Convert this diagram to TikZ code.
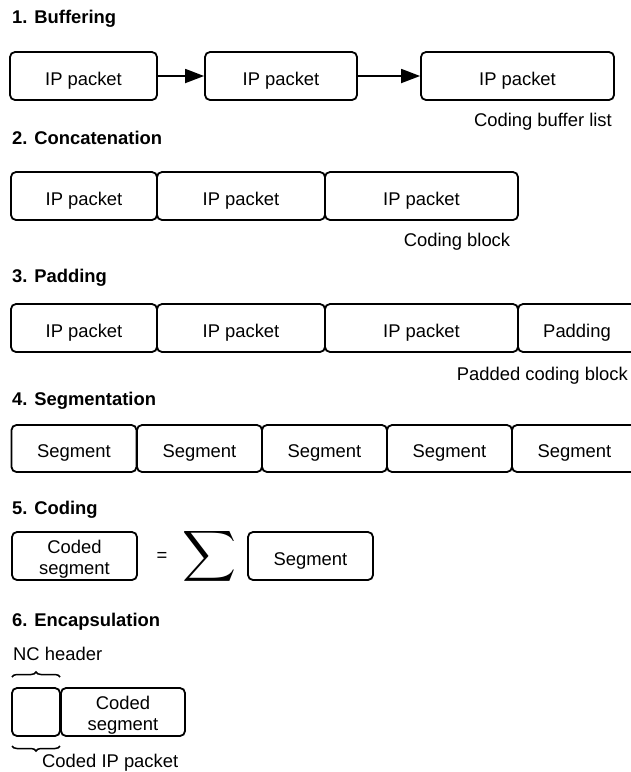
\documentclass[tikz,border=0pt]{standalone}
\usepackage{fontspec}
\setmainfont{Liberation Sans}
\usetikzlibrary{arrows.meta,decorations.pathreplacing}
\newcommand{\twolines}[2]{\parbox[b]{110pt}{\centering\fontsize{18.4}{21}\selectfont #1\\#2}}
\tikzset{
  blk/.style={draw, line width=1.8pt, rounded corners=5pt, inner sep=0pt,
    minimum height=48pt, text height=18pt, text depth=0pt,
    font=\fontsize{18.4}{22}\selectfont},
  blk2/.style={blk, text height=37.4pt, text depth=0pt},
  title/.style={anchor=base west, inner sep=0pt, font=\fontsize{18.4}{22}\selectfont\bfseries},
  lbl/.style={inner sep=0pt, font=\fontsize{18.4}{22}\selectfont},
  link/.style={line width=1.8pt, -{Triangle[length=19pt,width=14pt]}},
  brc/.style={decorate, decoration={brace, amplitude=5pt}, line width=1.5pt}
}
\begin{document}
\begin{tikzpicture}[x=1pt,y=-1pt]
\useasboundingbox (0,0) rectangle (631,772);
\clip (0,0) rectangle (631,772);

% 1. Buffering
\node[title] (t1) at (12,23.3) {1. Buffering};
\node[blk, minimum width=147pt] (b1) at (83.5,76) {IP packet};
\node[blk, minimum width=152pt] (b2) at (281,76) {IP packet};
\node[blk, minimum width=193pt] (b3) at (517.5,76) {IP packet};
\draw[link] (b1) -- (b2);
\draw[link] (b2) -- (b3);
\node[lbl, anchor=base east] (l1) at (612,126.7) {Coding buffer list};

% 2. Concatenation
\node[title] (t2) at (12,144) {2. Concatenation};
\node[blk, minimum width=146pt] (c1) at (84,196) {IP packet};
\node[blk, minimum width=168pt] (c2) at (241,196) {IP packet};
\node[blk, minimum width=193pt] (c3) at (421.5,196) {IP packet};
\node[lbl, anchor=base] (l2) at (457,246.7) {Coding block};

% 3. Padding
\node[title] (t3) at (12,282) {3. Padding};
\node[blk, minimum width=146pt] (p1) at (84,328) {IP packet};
\node[blk, minimum width=168pt] (p2) at (241,328) {IP packet};
\node[blk, minimum width=193pt] (p3) at (421.5,328) {IP packet};
\node[blk, minimum width=118pt] (p4) at (577,328) {Padding};
\node[lbl, anchor=base east] (l3) at (628,380) {Padded coding block};

% 4. Segmentation
\node[title] (t4) at (12,405) {4. Segmentation};
\foreach \i/\cx in {1/74,2/199.5,3/324.5,4/449.5,5/574.5}
  \node[blk, minimum width=125pt, minimum height=47pt, text height=17pt] (s\i) at (\cx,448.5) {Segment};

% 5. Coding
\node[title] (t5) at (12,514.5) {5. Coding};
\node[blk2, minimum width=125pt] (k1) at (74.5,556) {\twolines{Coded}{segment}};
\node[lbl] (eq) at (162,557) {=};
\node[inner sep=0pt] (sig) at (210,556.5) {\resizebox*{54pt}{57pt}{$\displaystyle\sum$}};
\node[blk, minimum width=125pt] (k2) at (310.5,556) {Segment};

% 6. Encapsulation
\node[title] (t6) at (12,626) {6. Encapsulation};
\node[lbl, anchor=base west] (nc) at (13,660.5) {NC header};
\node[blk, minimum width=48pt] (h) at (36,712) {};
\node[blk2, minimum width=124pt] (cs) at (123,712) {\twolines{Coded}{segment}};
\coordinate (ba) at (12,677);
\coordinate (bb) at (60,677);
\draw[brc] (ba) -- (bb);
\coordinate (bc) at (60,746);
\coordinate (bd) at (12,746);
\draw[brc] (bc) -- (bd);
\node[lbl, anchor=base west] (cip) at (42,767.5) {Coded IP packet};
\end{tikzpicture}
\end{document}
